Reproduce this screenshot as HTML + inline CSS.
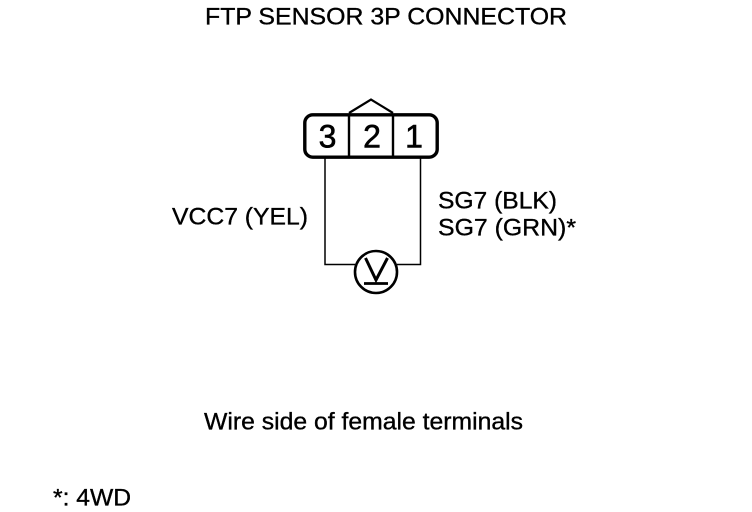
<!DOCTYPE html>
<html>
<head>
<meta charset="utf-8">
<style>
html,body{margin:0;padding:0;background:#fff;}
svg{display:block;}
text{font-family:"Liberation Sans",sans-serif;fill:#000;stroke:#000;stroke-width:0.35;}
</style>
</head>
<body>
<svg width="752" height="512" viewBox="0 0 752 512" xmlns="http://www.w3.org/2000/svg">
<text x="205" y="24.5" font-size="24" textLength="362" lengthAdjust="spacingAndGlyphs">FTP SENSOR 3P CONNECTOR</text>
<g fill="none" stroke="#000">
<rect x="304.8" y="114.8" width="132.4" height="42.4" rx="8" stroke-width="3.4"/>
<path d="M349 114V157M393 114V157" stroke-width="2.4"/>
<path d="M349 113L371 99.5L393 113" stroke-width="2.2"/>
<path d="M325 158V264.5H355M420.5 158V264.5H397" stroke-width="1.5"/>
<circle cx="376" cy="272" r="21" stroke-width="2.6"/>
<path d="M365.5 258L376 280L387.5 258" stroke-width="3"/>
<path d="M364 283.5H388" stroke-width="2.8"/>
</g>
<text x="327.5" y="147.5" font-size="32" text-anchor="middle" style="stroke-width:.6">3</text>
<text x="372" y="147.5" font-size="32" text-anchor="middle" style="stroke-width:.6">2</text>
<text x="414" y="147.5" font-size="32" text-anchor="middle" style="stroke-width:.6">1</text>
<text x="172" y="224.5" font-size="24" textLength="136" lengthAdjust="spacingAndGlyphs">VCC7 (YEL)</text>
<text x="438" y="208.5" font-size="24" textLength="119" lengthAdjust="spacingAndGlyphs">SG7 (BLK)</text>
<text x="438" y="235.5" font-size="24" textLength="138" lengthAdjust="spacingAndGlyphs">SG7 (GRN)*</text>
<text x="204" y="429.5" font-size="24" textLength="319" lengthAdjust="spacingAndGlyphs">Wire side of female terminals</text>
<text x="53" y="505.5" font-size="24" textLength="78" lengthAdjust="spacingAndGlyphs">*: 4WD</text>
</svg>
</body>
</html>
